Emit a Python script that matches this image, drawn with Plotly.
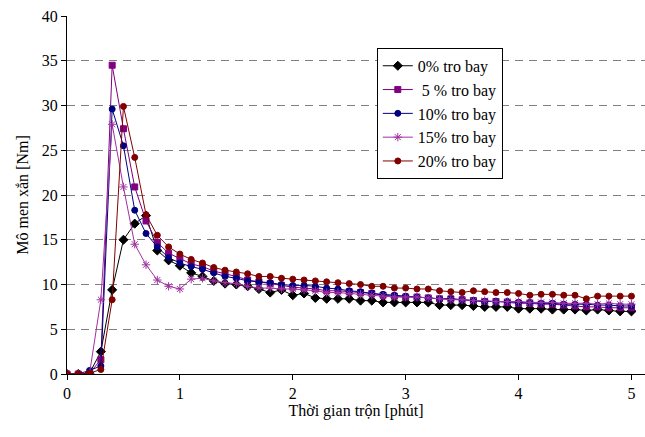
import plotly.graph_objects as go

time_min = [round(i * 0.1, 1) for i in range(51)]

s0 = [0, 0, 0.1, 2.5, 9.4, 15.0, 16.8, 17.7, 13.8, 12.7,
      12.1, 11.3, 10.9, 10.4, 10.1, 10.0, 9.8, 9.5, 9.1, 9.4,
      8.8, 9.0, 8.5, 8.4, 8.4, 8.4, 8.2, 8.2, 8.0, 8.0,
      8.0, 8.0, 8.0, 7.7, 7.7, 7.7, 7.6, 7.5, 7.5, 7.5,
      7.3, 7.3, 7.3, 7.2, 7.2, 7.2, 7.1, 7.2, 7.1, 7.0, 7.0]
s5 = [0, 0, 0.1, 1.6, 34.5, 27.4, 20.9, 17.1, 14.7, 13.5,
      12.9, 12.3, 12.0, 11.5, 11.2, 10.9, 10.5, 10.3, 10.1, 9.9,
      9.7, 9.6, 9.5, 9.3, 9.3, 9.2, 9.1, 9.0, 8.8, 8.7,
      8.6, 8.6, 8.5, 8.4, 8.4, 8.3, 8.2, 8.1, 8.1, 8.0,
      7.9, 7.9, 7.8, 7.8, 7.7, 7.6, 7.5, 7.5, 7.4, 7.4, 7.4]
s10 = [0, 0, 0.4, 0.9, 29.6, 25.5, 18.3, 15.7, 14.2, 13.0,
       12.4, 12.0, 11.7, 11.3, 10.9, 10.7, 10.4, 10.3, 10.2, 10.0,
       9.9, 9.9, 9.8, 9.6, 9.5, 9.3, 9.2, 9.0, 8.9, 8.8,
       8.7, 8.6, 8.5, 8.4, 8.4, 8.3, 8.2, 8.1, 8.1, 8.1,
       8.0, 8.0, 7.9, 7.9, 7.8, 7.8, 7.8, 7.7, 7.7, 7.6, 7.6]
s15 = [0, 0, 0.1, 8.3, 27.9, 20.9, 14.5, 12.2, 10.5, 9.8,
       9.5, 10.6, 10.7, 10.4, 10.2, 10.1, 9.8, 9.6, 9.6, 9.5,
       9.5, 9.4, 9.3, 9.1, 9.1, 9.0, 8.9, 8.8, 8.7, 8.6,
       8.6, 8.6, 8.5, 8.4, 8.3, 8.3, 8.2, 8.2, 8.1, 8.1,
       8.1, 8.0, 8.0, 8.0, 7.9, 7.9, 7.9, 7.8, 7.9, 7.8, 7.8]
s20 = [0, 0, 0.1, 0.5, 8.3, 29.9, 24.2, 17.8, 15.5, 14.2,
       13.4, 12.8, 12.4, 11.9, 11.6, 11.4, 11.2, 10.9, 10.9, 10.7,
       10.6, 10.5, 10.4, 10.3, 10.2, 10.1, 10.0, 9.8, 9.8, 9.6,
       9.6, 9.5, 9.5, 9.3, 9.2, 9.1, 9.3, 9.2, 9.1, 9.1,
       9.0, 8.8, 8.9, 8.9, 8.8, 8.8, 8.4, 8.7, 8.7, 8.7, 8.7]

series_names = ["0% tro bay", " 5 % tro bay", "10% tro bay", "15% tro bay", "20% tro bay"]
series_values = [s0, s5, s10, s15, s20]
colors = ["#000000", "#800080", "#000080", "#A030A0", "#800000"]
symbols = ["diamond", "square", "circle", "asterisk-open", "circle"]
sizes = [7, 6, 6, 7, 6]

fig = go.Figure()
for name, vals, c, sym, sz in zip(series_names, series_values, colors, symbols, sizes):
    fig.add_trace(go.Scatter(
        x=time_min, y=vals, name=name, mode="lines+markers",
        line=dict(color=c, width=1),
        marker=dict(symbol=sym, size=sz, color=c, line=dict(color=c, width=1)),
    ))

font = "Liberation Serif, Times New Roman, serif"
fig.update_layout(
    width=645, height=437,
    margin=dict(l=67, r=0, t=16, b=63),
    paper_bgcolor="white", plot_bgcolor="white",
    font=dict(family=font, size=16, color="black"),
    showlegend=True,
    legend=dict(x=0.536, y=0.911, xanchor="left", yanchor="top",
                bgcolor="white", bordercolor="black", borderwidth=1,
                font=dict(family=font, size=16, color="black")),
)
fig.update_xaxes(
    range=[0, 5.12], tickvals=[0, 1, 2, 3, 4, 5], ticktext=["0", "1", "2", "3", "4", "5"],
    showline=True, linecolor="black", linewidth=1,
    ticks="outside", ticklen=5, tickcolor="black",
    showgrid=False, zeroline=False, automargin=False,
    tickfont=dict(family=font, size=16),
    title=dict(text="Thời gian trộn [phút]", standoff=0, font=dict(family=font, size=16)),
)
fig.update_yaxes(
    range=[0, 40], tickvals=[0, 5, 10, 15, 20, 25, 30, 35, 40],
    showline=True, linecolor="black", linewidth=1,
    ticks="outside", ticklen=5, tickcolor="black",
    showgrid=True, gridcolor="#808080", gridwidth=1, griddash="8px,6px",
    zeroline=False, automargin=False,
    tickfont=dict(family=font, size=16),
    title=dict(text="Mô men xắn [Nm]", standoff=9, font=dict(family=font, size=16)),
)
fig.write_html("out.html", config={"displayModeBar": False},
               post_script="document.body.style.margin='0';")
